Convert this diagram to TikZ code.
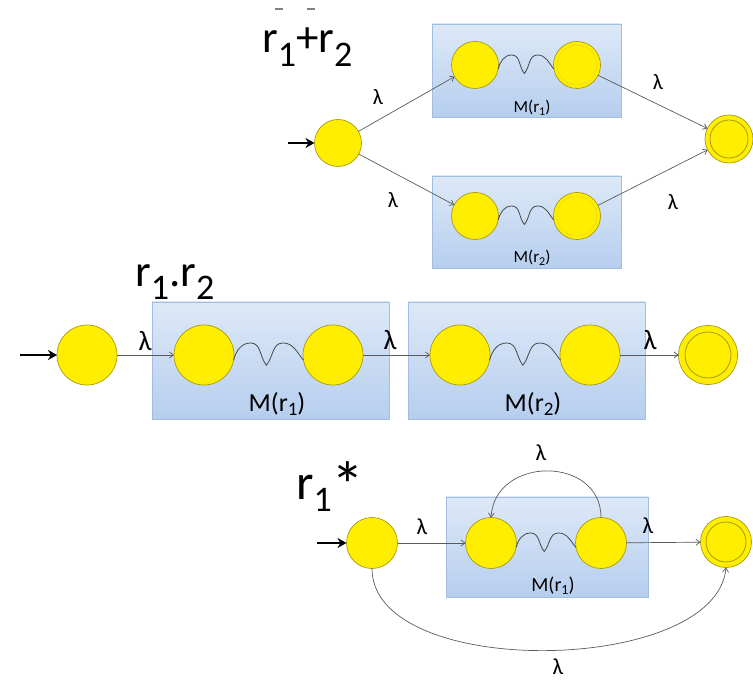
\documentclass[tikz,border=0pt]{standalone}
\usepackage{fontspec}
\setmainfont{Carlito}
\usetikzlibrary{arrows.meta,calc}
\definecolor{stfill}{HTML}{FFEE00}
\definecolor{stdraw}{HTML}{A89A10}
\definecolor{boxtop}{HTML}{DDE9F8}
\definecolor{boxbot}{HTML}{B6CEEE}
\definecolor{boxdraw}{HTML}{A2BDE2}
\definecolor{edgecol}{HTML}{5A5A5A}
\newcommand\fsz[1]{\fontsize{#1}{#1}\selectfont}
\newcommand\sbx[3]{\raisebox{-#1pt}{\fontsize{#2}{#2}\selectfont #3}}
\newcommand\wavepath[3]{%
  \draw[wavy] (#1.-10) to[out=75,in=180] ($(#1.east)!0.24!(#2.west)+(0,#3)$)
    to[out=0,in=130] ($(#1.east)!0.47!(#2.west)+(0,-0.85*#3)$)
    to[out=50,in=180] ($(#1.east)!0.71!(#2.west)+(0,#3)$)
    to[out=0,in=130] (#2.190);}
\tikzset{
  st/.style={circle, fill=stfill, draw=stdraw, line width=0.7pt, inner sep=0pt, outer sep=0pt},
  stA/.style={st, minimum size=47pt},
  stB/.style={st, minimum size=60pt},
  stC/.style={st, minimum size=51pt},
  mbox/.style={draw=boxdraw, line width=0.8pt, top color=boxtop, bottom color=boxbot},
  edge/.style={draw=edgecol, line width=0.7pt, -{Straight Barb[length=4pt,width=6pt]}},
  entry/.style={draw=black, line width=2.6pt, -{Stealth[length=9pt,width=10pt]}},
  wavy/.style={draw=edgecol!80!black, line width=0.8pt},
  inring/.style={draw=stdraw, line width=0.8pt},
  faintring/.style={draw=stdraw!60!stfill, line width=0.5pt, densely dotted},
  lam/.style={inner sep=0pt, text=black},
  ttl/.style={anchor=base west, inner sep=0pt, text=black}
}
\begin{document}
\begin{tikzpicture}[x=1pt,y=1pt]
\useasboundingbox (0,0) rectangle (753,681);
% ---------- top: r1+r2 ----------
\draw[gray, line width=1.6pt] (275,672) -- (283,672) (307,672) -- (315,672);
\node[ttl, font=\fsz{45}] (t1) at (262,628) {r\sbx{14}{36}{1}+r\sbx{14}{36}{2}};
\draw[mbox] (432,564) rectangle (621,657);
\draw[mbox] (432,413) rectangle (621,505);
\node[stA] (s1) at (338,538) {};
\node[stA] (a1) at (475,616) {};
\node[stA] (b1) at (577,616) {};
\node[stA] (a2) at (475,465) {};
\node[stA] (b2) at (577,465) {};
\node[st, minimum size=48pt] (f1) at (729,542) {};
\draw[inring] (f1.center) circle (19);
\draw[faintring] (b1.center) circle (20);
\draw[faintring] (b2.center) circle (20);
\wavepath{a1}{b1}{10}
\wavepath{a2}{b2}{10}
\node[lam, font=\fsz{17}] (m1) at (532,573) {M(r\sbx{3}{12}{1})};
\node[lam, font=\fsz{17}] (m2) at (532,423) {M(r\sbx{3}{12}{2})};
\coordinate (e1) at (288,538);
\draw[entry] (e1) -- (s1);
\draw[edge] (s1) -- (a1);
\draw[edge] (s1) -- (a2);
\draw[edge] (b1) -- (f1);
\draw[edge] (b2) -- (f1);
\node[lam, font=\fsz{22}] (l1) at (378,584) {λ};
\node[lam, font=\fsz{22}] (l2) at (393,481) {λ};
\node[lam, font=\fsz{22}] (l3) at (658,599) {λ};
\node[lam, font=\fsz{22}] (l4) at (673,479) {λ};
% ---------- middle: r1.r2 ----------
\node[ttl, font=\fsz{45}] (t2) at (135,394) {r\sbx{13}{36}{1}.r\sbx{13}{36}{2}};
\draw[mbox] (152,262) rectangle (389,379);
\draw[mbox] (408,262) rectangle (645,379);
\node[stB] (s2) at (87,326) {};
\node[stB] (c1) at (204,326) {};
\node[stB] (d1) at (333,326) {};
\node[stB] (c2) at (460,326) {};
\node[stB] (d2) at (590,326) {};
\node[st, minimum size=59pt] (f2) at (708,326) {};
\draw[inring] (f2.center) circle (23);
\wavepath{c1}{d1}{12}
\wavepath{c2}{d2}{12}
\node[lam, font=\fsz{26}] (m3) at (277,277) {M(r\sbx{4}{19}{1})};
\node[lam, font=\fsz{26}] (m4) at (533,277) {M(r\sbx{4}{19}{2})};
\coordinate (e2) at (20,326);
\draw[entry] (e2) -- (s2);
\draw[edge] (s2) -- (c1);
\draw[edge] (d1) -- (c2);
\draw[edge] (d2) -- (f2);
\node[lam, font=\fsz{28}] (l5) at (145,340) {λ};
\node[lam, font=\fsz{28}] (l6) at (390,341) {λ};
\node[lam, font=\fsz{28}] (l7) at (650,341) {λ};
% ---------- bottom: r1* ----------
\node[ttl, font=\fsz{50}] (t3) at (296,181) {r\sbx{12}{36}{1}\raisebox{-9pt}{\fsz{66}*}};
\draw[mbox] (446,84) rectangle (648,184);
\node[stC] (s3) at (372,138) {};
\node[stC] (g0) at (491,138) {};
\node[stC] (g1) at (601,138) {};
\node[st, minimum size=51pt] (f3) at (726,139) {};
\draw[inring] (f3.center) circle (20);
\wavepath{g0}{g1}{10}
\node[lam, font=\fsz{20}] (m5) at (553,95) {M(r\sbx{3}{14}{1})};
\coordinate (e3) at (317,138);
\draw[entry] (e3) -- (s3);
\draw[edge] (s3) -- (g0);
\draw[edge] (g1) -- (f3);
\draw[edge] (g1.north) .. controls +(0,62) and +(4,62) .. (g0.north);
\draw[edge] (s3.south) .. controls +(0,-112) and +(-10,-108) .. (f3.south);
\node[lam, font=\fsz{23}] (l8) at (422,154) {λ};
\node[lam, font=\fsz{23}] (l9) at (541,228) {λ};
\node[lam, font=\fsz{23}] (l10) at (648,155) {λ};
\node[lam, font=\fsz{23}] (l11) at (558,14) {λ};
\end{tikzpicture}
\end{document}
